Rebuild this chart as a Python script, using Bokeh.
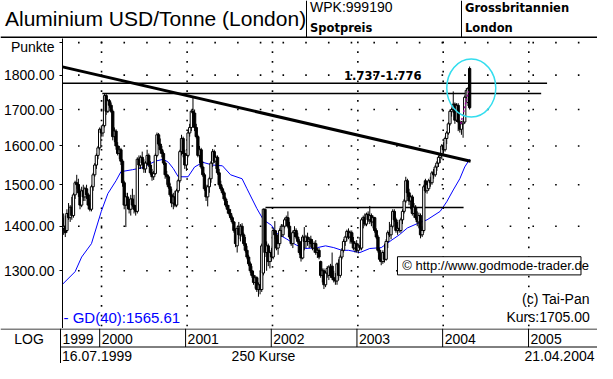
import datetime as dt
import numpy as np
from bokeh.plotting import figure
from bokeh.models import Range1d, FixedTicker, CustomJSTickFormatter, ColumnDataSource
from bokeh.layouts import column
from bokeh.embed import file_html
from bokeh.resources import INLINE
from bokeh.core.properties import value

FONT = "Liberation Sans"
BFONT = "DejaVu Sans"

# ---------------- data ----------------
first_date = dt.date(1999, 7, 16)
last_date = dt.date(2004, 4, 21)
n_prices = 250
last_kurs = 1705.00
gd_last = 1565.61

opens = [1420,1395,1400,1390,1430,1420,1445,1425,1475,1505,
         1500,1480,1450,1485,1470,1490,1475,1455,1440,1495,
         1525,1550,1575,1595,1645,1635,1655,1740,1695,1725,
         1712,1695,1625,1640,1600,1580,1590,1560,1505,1450,
         1470,1450,1440,1465,1450,1440,1435,1565,1550,1570,
         1555,1540,1555,1575,1550,1530,1520,1528,1575,1630,
         1605,1590,1580,1555,1525,1520,1495,1475,1455,1470,
         1450,1485,1510,1585,1620,1580,1550,1575,1635,1650,
         1695,1690,1650,1625,1575,1590,1545,1525,1490,1470,
         1495,1515,1555,1585,1560,1570,1530,1500,1490,1480,
         1465,1450,1440,1430,1420,1410,1390,1355,1395,1380,
         1400,1380,1360,1345,1330,1315,1300,1290,1275,1285,
         1260,1270,1260,1295,1440,1340,1355,1320,1340,1330,
         1390,1380,1350,1360,1390,1380,1400,1415,1420,1400,
         1375,1360,1385,1390,1375,1365,1340,1328,1375,1365,
         1375,1365,1370,1360,1350,1360,1340,1345,1320,1290,
         1300,1270,1295,1290,1308,1310,1285,1280,1278,1315,
         1290,1330,1345,1365,1375,1388,1375,1385,1365,1350,
         1360,1345,1355,1350,1415,1420,1405,1428,1415,1425,
         1410,1420,1390,1375,1345,1325,1320,1340,1325,1365,
         1385,1380,1400,1435,1415,1390,1395,1390,1415,1435,
         1460,1510,1480,1460,1470,1430,1445,1420,1410,1425,
         1380,1390,1510,1485,1490,1510,1505,1530,1525,1545,
         1555,1570,1575,1600,1590,1620,1635,1660,1695,1700,
         1715,1670,1712,1665,1645,1660,1665,1735,1720,1820]
highs = [1435,1430,1425,1440,1455,1450,1470,1480,1510,1525,
         1515,1490,1495,1500,1495,1500,1480,1465,1500,1530,
         1555,1580,1600,1650,1655,1660,1746,1746,1730,1730,
         1720,1700,1650,1645,1610,1600,1595,1565,1510,1480,
         1480,1465,1475,1490,1475,1450,1570,1575,1575,1585,
         1565,1560,1590,1580,1560,1540,1535,1580,1636,1635,
         1620,1600,1585,1560,1535,1525,1505,1490,1480,1485,
         1490,1515,1590,1630,1625,1590,1580,1640,1660,1700,
         1733,1700,1660,1630,1600,1595,1560,1530,1500,1500,
         1520,1560,1592,1590,1575,1575,1540,1510,1495,1485,
         1470,1460,1450,1440,1425,1412,1395,1400,1410,1405,
         1407,1385,1375,1355,1335,1320,1310,1300,1290,1288,
         1275,1300,1360,1442,1442,1365,1360,1345,1350,1395,
         1412,1390,1370,1395,1405,1405,1420,1425,1435,1410,
         1385,1390,1400,1395,1385,1370,1345,1380,1398,1380,
         1385,1375,1378,1370,1365,1368,1350,1350,1322,1305,
         1305,1300,1310,1312,1315,1340,1300,1295,1318,1325,
         1335,1350,1370,1378,1392,1395,1390,1390,1375,1365,
         1368,1360,1375,1420,1425,1430,1432,1435,1448,1430,
         1425,1422,1395,1380,1350,1340,1345,1360,1370,1390,
         1410,1405,1440,1440,1420,1410,1415,1420,1440,1465,
         1520,1515,1490,1475,1475,1455,1450,1435,1432,1430,
         1400,1500,1515,1505,1515,1520,1535,1540,1550,1560,
         1575,1580,1605,1610,1625,1640,1665,1700,1705,1752,
         1720,1718,1718,1670,1668,1670,1740,1762,1765,1826]
lows = [1385,1380,1375,1385,1415,1410,1415,1420,1465,1490,
        1470,1440,1445,1460,1460,1465,1440,1435,1435,1485,
        1520,1540,1565,1590,1625,1625,1650,1685,1690,1705,
        1690,1615,1610,1590,1575,1565,1550,1495,1440,1398,
        1440,1430,1425,1445,1430,1425,1430,1540,1540,1550,
        1530,1530,1550,1545,1525,1510,1512,1525,1570,1600,
        1580,1570,1550,1515,1500,1490,1470,1445,1440,1445,
        1445,1480,1505,1575,1570,1540,1535,1570,1625,1640,
        1680,1640,1620,1570,1555,1540,1520,1485,1460,1447,
        1480,1505,1545,1555,1540,1525,1495,1485,1475,1460,
        1445,1430,1425,1415,1405,1385,1352,1340,1370,1365,
        1375,1355,1340,1325,1310,1295,1285,1270,1262,1255,
        1245,1250,1255,1290,1330,1300,1310,1305,1320,1325,
        1370,1345,1335,1355,1375,1375,1395,1400,1395,1370,
        1355,1350,1375,1370,1360,1335,1320,1325,1345,1350,
        1355,1350,1352,1345,1340,1335,1328,1325,1285,1275,
        1261,1265,1285,1280,1285,1280,1275,1270,1270,1280,
        1285,1325,1340,1355,1365,1370,1360,1360,1345,1340,
        1340,1338,1345,1345,1395,1400,1400,1410,1405,1400,
        1395,1385,1370,1340,1320,1312,1315,1318,1322,1350,
        1375,1370,1395,1410,1385,1380,1385,1385,1405,1430,
        1455,1470,1450,1440,1425,1420,1415,1400,1395,1372,
        1375,1385,1480,1478,1485,1495,1500,1515,1520,1535,
        1545,1555,1565,1580,1585,1605,1630,1655,1680,1690,
        1660,1665,1640,1636,1630,1622,1660,1725,1710,1700]
closes = [1390,1400,1385,1430,1420,1445,1425,1475,1505,1500,
          1480,1450,1485,1470,1490,1475,1450,1440,1495,1525,
          1550,1575,1595,1645,1635,1655,1740,1695,1725,1712,
          1695,1625,1640,1600,1580,1590,1560,1505,1450,1470,
          1450,1440,1465,1450,1440,1435,1565,1550,1570,1555,
          1540,1555,1575,1550,1530,1520,1528,1575,1630,1605,
          1590,1580,1555,1525,1520,1495,1475,1455,1470,1450,
          1485,1510,1585,1620,1580,1550,1575,1635,1650,1695,
          1690,1650,1625,1575,1590,1545,1525,1490,1470,1495,
          1515,1555,1585,1560,1570,1530,1500,1490,1480,1465,
          1450,1440,1430,1420,1410,1390,1360,1395,1380,1400,
          1380,1360,1345,1330,1315,1300,1290,1275,1285,1260,
          1270,1260,1355,1440,1340,1355,1320,1340,1330,1390,
          1380,1350,1360,1390,1400,1400,1415,1420,1400,1375,
          1360,1385,1390,1375,1365,1340,1328,1375,1365,1375,
          1365,1370,1360,1350,1360,1340,1345,1330,1290,1300,
          1270,1295,1305,1308,1290,1285,1280,1278,1315,1290,
          1330,1345,1365,1375,1388,1375,1385,1365,1350,1360,
          1345,1355,1350,1415,1420,1405,1428,1415,1425,1410,
          1420,1390,1375,1345,1325,1320,1340,1325,1365,1385,
          1380,1400,1435,1415,1390,1395,1390,1415,1435,1460,
          1510,1480,1460,1470,1430,1445,1420,1410,1425,1380,
          1390,1495,1485,1500,1510,1505,1530,1525,1545,1555,
          1570,1575,1600,1590,1620,1635,1660,1695,1700,1715,
          1670,1712,1665,1645,1660,1665,1735,1755,1760,1705]

# GD(40) moving average (week index, value)
ma_weeks = [0, 8, 12, 18, 24, 28, 33, 36, 43, 49,
            57, 62, 65, 68, 71, 77, 81, 86, 92, 98,
            103, 110, 113, 119, 123, 128, 131, 137, 143, 149,
            156, 161, 166, 171, 175, 182, 188, 195, 201, 206,
            211, 217, 223, 231, 235, 239, 243, 246, 249]
ma_values = [1270, 1298, 1330, 1360, 1435, 1478, 1510, 1533, 1538, 1543,
             1560, 1565, 1557, 1541, 1520, 1520, 1545, 1557, 1550, 1548,
             1525, 1515, 1490, 1442, 1415, 1402, 1384, 1371, 1357, 1349,
             1351, 1355, 1351, 1345, 1345, 1340, 1349, 1351, 1367, 1380,
             1396, 1406, 1415, 1435, 1458, 1487, 1515, 1545, 1565]

# drawn studies
trend_weeks = [0.3, 249.6]
trend_values = [1825, 1560]
res_upper_weeks = [0.3, 296.3]
res_upper_value = 1776
res_lower_weeks = [24.6, 292.7]
res_lower_value = 1746
support_weeks = [124.3, 245.3]
support_value = 1444
signal_weeks = [243.6, 248.3]
signal_values = [1660, 1752]
circle_week = 250.0
circle_value = 1762

y_ticks = [1300, 1400, 1500, 1600, 1700, 1800, 1900]
years = [1999, 2000, 2001, 2002, 2003, 2004, 2005]

# ---------------- layout helpers ----------------
W = 597
H_HEAD, H_MAIN, H_FOOT = 38, 290, 35
LEFT = 60
XS = 0.3
XE = XS + 551 / 1.686
KPX = (W - LEFT) / (XE - XS)          # screen px per week in the main frame

def wk(x_ref):   # reference-pixel x -> week coordinate (for annotations)
    return XS + (x_ref - 62) / 1.686

def pv(y_ref):   # reference-pixel y -> price (for annotations)
    return 1800 * np.exp(-(y_ref - 78.3) / 628)

def week_of(d):
    return (d - first_date).days / 7.0

weeks = list(range(n_prices))
year_starts = [week_of(dt.date(y, 1, 1)) for y in years[1:]]

# dotted grid: rows at the price ticks, columns at the year starts
row_step = 23.4 / 1.686
row_x = [year_starts[0] + k * row_step for k in range(-1, 23)]
col_y = [pv(yr) for yr in np.arange(44.0, 343.0, 10.2)]
dot_x = [x for x in row_x for _ in y_ticks] + [x for x in year_starts for _ in col_y]
dot_y = [y for _ in row_x for y in y_ticks] + [y for _ in year_starts for y in col_y]

# ---------------- header ----------------
h = figure(width=W, height=H_HEAD, x_range=Range1d(0, W), y_range=Range1d(H_HEAD, 0),
           x_axis_location=None, y_axis_location=None, output_backend="svg",
           toolbar_location=None, min_border=0, frame_align=False)
h.outline_line_color = None
h.grid.visible = False
h.segment(x0=[0, 306, 461], y0=[H_HEAD - 1, 0, 0], x1=[W, 306, 461], y1=[H_HEAD - 1, H_HEAD, H_HEAD],
          line_color="black", line_width=[2, 1, 1])
h.text(x=[4.5], y=[17.5], text=["Aluminium USD/Tonne (London)"], text_font=value(FONT),
       text_font_size=value("21px"), text_baseline="middle", text_color="black")
h.text(x=[309.5], y=[6.5], text=["WPK:999190"], text_font=value(FONT),
       text_font_size=value("14px"), text_baseline="middle", text_color="black")
h.text(x=[309.5, 464.5, 464.5], y=[27.5, 7, 27.5], text=["Spotpreis", "Grossbritannien", "London"],
       text_font=value(BFONT), text_font_style="bold", text_font_size=value("11.5px"),
       text_baseline="middle", text_color="black")

# ---------------- main chart ----------------
p = figure(width=W, height=H_MAIN, x_range=Range1d(XS, XE), y_range=Range1d(pv(343), pv(40)),
           y_axis_type="log", x_axis_location=None, output_backend="svg", toolbar_location=None,
           min_border_left=LEFT, min_border_right=0, min_border_top=0, min_border_bottom=0,
           frame_align=False)
p.outline_line_color = None
p.grid.visible = False
yax = p.yaxis[0]
yax.ticker = FixedTicker(ticks=y_ticks)
yax.formatter = CustomJSTickFormatter(code="return tick > 1850 ? 'Punkte' : tick.toFixed(2);")
yax.major_label_text_font = FONT
yax.major_label_text_font_size = "14px"
yax.major_label_text_color = "black"
yax.major_tick_out = 3
yax.major_tick_in = 0
yax.minor_tick_out = 0
yax.minor_tick_in = 0
yax.major_label_standoff = 5
yax.axis_line_color = "black"
yax.major_tick_line_color = "black"

p.scatter(x=dot_x, y=dot_y, marker="square", size=1.6, fill_color="black", line_color=None)

# studies behind the candles
p.line(x=ma_weeks, y=ma_values, line_color="#0000FF", line_width=1)
p.line(x=res_upper_weeks, y=[res_upper_value] * 2, line_color="black", line_width=1.5)
p.line(x=res_lower_weeks, y=[res_lower_value] * 2, line_color="black", line_width=1.5)
p.line(x=support_weeks, y=[support_value] * 2, line_color="black", line_width=1.5)

# candles
fills = ["white" if c >= o else "black" for o, c in zip(opens, closes)]
src = ColumnDataSource(dict(x=weeks, o=opens, h=highs, l=lows, c=closes, fill=fills))
p.segment(x0="x", y0="l", x1="x", y1="h", source=src, line_color="black", line_width=1)
p.vbar(x="x", width=1.4, top="o", bottom="c", fill_color="fill", line_color="black",
       line_width=1, source=src)

p.line(x=trend_weeks, y=trend_values, line_color="black", line_width=3)
p.line(x=signal_weeks, y=signal_values, line_color="#990099", line_width=1.5, line_dash="2 2")
p.ellipse(x=[circle_week], y=[circle_value], width=49, height=58, width_units="screen",
          height_units="screen", fill_color=None, line_color="#33DDEE", line_width=1.5)

p.text(x=[wk(352)], y=[pv(78.5)], text=["1.737-1.776"], text_font=value(BFONT),
       text_font_style="bold", text_font_size=value("11.5px"), text_baseline="middle",
       text_color="black")
p.text(x=[wk(63)], y=[pv(332)], text=[f"- GD(40):{gd_last:.2f}"], text_font=value(FONT),
       text_font_size=value("15px"), text_baseline="middle", text_color="#0000FF")
p.text(x=[wk(605), wk(605)], y=[pv(312), pv(331)],
       text=["(c) Tai-Pan", f"Kurs:{last_kurs:.2f}"], text_font=value(FONT),
       text_font_size=value("14px"), text_baseline="middle", text_align="right",
       text_color="black")
p.quad(left=[wk(407)], right=[wk(596)], top=[pv(268)], bottom=[pv(287)],
       fill_color="white", line_color="black", line_width=1)
p.text(x=[wk(412)], y=[pv(277.5)], text=["\u00a9 http://www.godmode-trader.de"],
       text_font=value(FONT), text_font_size=value("13px"), text_baseline="middle",
       text_color="black")

# ---------------- footer ----------------
FX0 = XS - LEFT / KPX
f = figure(width=W, height=H_FOOT, x_range=Range1d(FX0, XE), y_range=Range1d(H_FOOT, 0),
           x_axis_location=None, y_axis_location=None, output_backend="svg",
           toolbar_location=None, min_border=0, frame_align=False)
f.outline_line_color = None
f.grid.visible = False

def fx(px):
    return FX0 + px / KPX

f.segment(x0=[FX0, XS, XS], y0=[0.5, 18.5, 0], x1=[XE, XE, XS], y1=[0.5, 18.5, H_FOOT],
          line_color="black", line_width=1)
f.segment(x0=year_starts, y0=[0] * len(year_starts), x1=year_starts, y1=[18.5] * len(year_starts),
          line_color="black", line_width=1)
f.text(x=[XS + 2 / KPX] + [w + 2 / KPX for w in year_starts], y=[10] * len(years),
       text=[str(y) for y in years], text_font=value(FONT), text_font_size=value("14px"),
       text_baseline="middle", text_color="black")
f.text(x=[fx(28.5)], y=[10], text=["LOG"], text_font=value(FONT), text_font_size=value("14px"),
       text_baseline="middle", text_align="center", text_color="black")
f.text(x=[XS + 1.5 / KPX], y=[27.5], text=[first_date.strftime("%d.%m.%Y")], text_font=value(FONT),
       text_font_size=value("14px"), text_baseline="middle", text_color="black")
f.text(x=[fx(263)], y=[27.5], text=[f"{n_prices} Kurse"], text_font=value(FONT),
       text_font_size=value("14px"), text_baseline="middle", text_align="center", text_color="black")
f.text(x=[fx(594)], y=[27.5], text=[last_date.strftime("%d.%m.%Y")], text_font=value(FONT),
       text_font_size=value("14px"), text_baseline="middle", text_align="right", text_color="black")

layout = column(h, p, f, spacing=0)
open("out.html", "w").write(file_html(layout, INLINE))
